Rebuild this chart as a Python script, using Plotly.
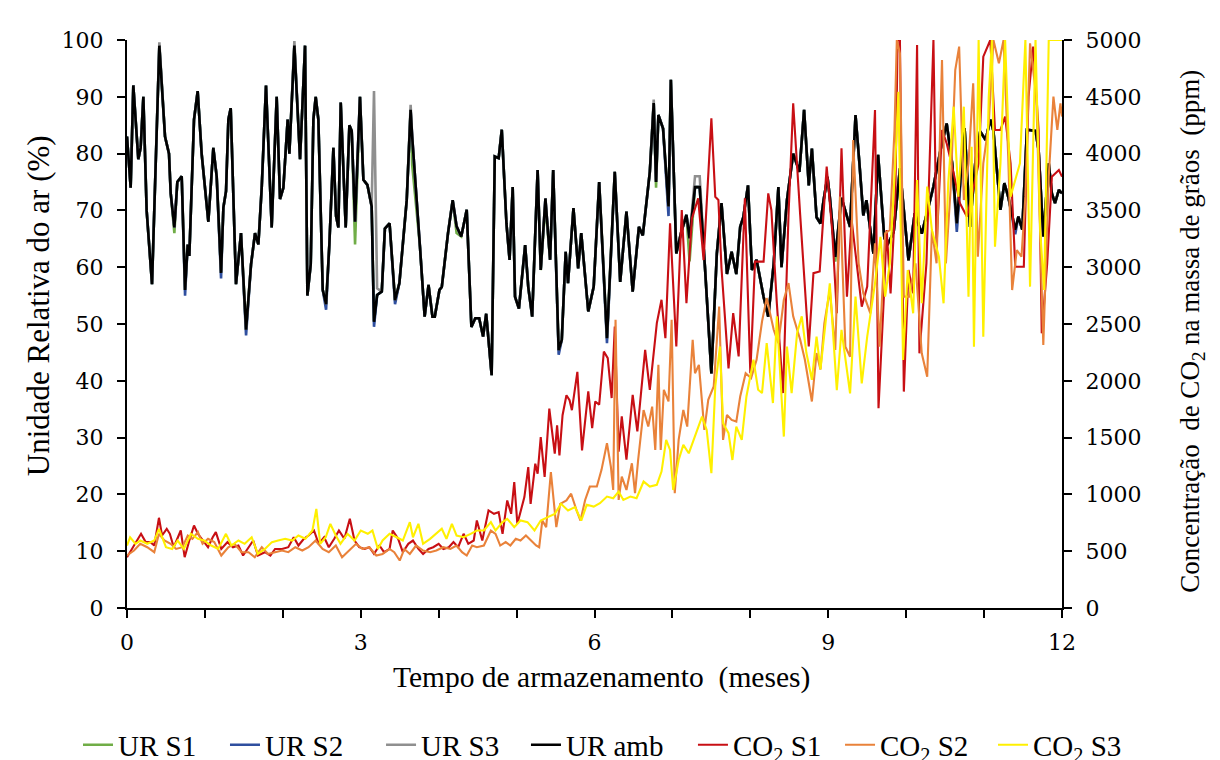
import plotly.graph_objects as go

# ---------------- data ----------------
ur_t = [
    0.00, 0.047, 0.081, 0.145, 0.175, 0.21, 0.252, 0.321, 0.415, 0.488,
    0.539, 0.561, 0.608, 0.646, 0.702, 0.745, 0.779, 0.80, 0.86, 0.907,
    0.958, 1.023, 1.044, 1.108, 1.151, 1.207, 1.237, 1.271, 1.301, 1.331,
    1.399, 1.463, 1.528, 1.592, 1.643, 1.686, 1.729, 1.784, 1.857, 1.921,
    1.964, 2.007, 2.062, 2.084, 2.148, 2.221, 2.285, 2.315, 2.358, 2.392,
    2.422, 2.456, 2.512, 2.555, 2.597, 2.649, 2.683, 2.713, 2.743, 2.807,
    2.854, 2.884, 2.927,
    2.99, 3.034, 3.085, 3.14, 3.17, 3.21, 3.27, 3.31, 3.37, 3.44,
    3.496, 3.55, 3.59, 3.64, 3.66, 3.76, 3.82, 3.87, 3.92, 3.95,
    4.01, 4.04, 4.12, 4.18, 4.23, 4.29, 4.36, 4.42, 4.47, 4.52,
    4.57, 4.61, 4.68, 4.72, 4.77, 4.81, 4.87, 4.91, 4.95, 4.98,
    5.03, 5.11, 5.15, 5.2, 5.27, 5.31, 5.37, 5.43, 5.47, 5.54,
    5.58, 5.63, 5.66, 5.73, 5.79, 5.83,
    5.92, 5.99, 6.06, 6.16, 6.26, 6.33, 6.41, 6.49, 6.57, 6.62,
    6.71, 6.76, 6.79, 6.82, 6.88, 6.95, 6.98, 7.05, 7.11, 7.18,
    7.22, 7.29, 7.35, 7.42, 7.50, 7.57, 7.63, 7.70, 7.76, 7.82,
    7.87, 7.91, 7.97, 8.02, 8.08, 8.17, 8.23, 8.30, 8.36, 8.40,
    8.47, 8.55, 8.63, 8.69, 8.75, 8.79, 8.85,
    8.90, 8.94, 8.99, 9.02, 9.09, 9.13, 9.17, 9.28, 9.35, 9.40,
    9.45, 9.49, 9.58, 9.64, 9.72, 9.77, 9.84, 9.92, 10.03, 10.11,
    10.20, 10.27, 10.35, 10.44, 10.52, 10.59, 10.65, 10.75, 10.82, 10.89,
    10.95, 11.02, 11.08, 11.12, 11.21, 11.26, 11.31, 11.40, 11.44, 11.49,
    11.55, 11.66, 11.70, 11.76, 11.83, 11.87, 11.91, 11.96, 12.0,
]

ur_amb = [
    83, 74, 92, 79, 81, 90, 70, 57, 99, 83,
    80, 73, 67, 75, 76, 56, 64, 62, 86, 91,
    80, 70, 68, 81, 76, 59, 70.5, 73.4, 86, 88,
    57, 66, 49, 60.5, 66, 64, 74, 92, 67, 90,
    72, 74, 86, 80, 99, 79, 99, 55, 60.5, 86,
    90, 86, 56, 53.5, 64, 81, 69, 67, 89, 67,
    85, 84, 68,
    90, 75.4, 74.5, 70.7, 50.4, 55.1, 55.7, 66.8, 67.7, 54.2,
    57.2, 66, 71.8, 87.7, 83, 63.6, 51.3, 56.9, 51.3, 51.3,
    56, 56.5, 66, 71.8, 67.2, 65.4, 70.1, 49.5, 51, 51,
    47.8, 51.8, 41, 79.5, 79.2, 84.2, 67.7, 61.3, 74.1, 54.8,
    52.7, 63.9, 56.5, 51.3, 77.1, 59.5, 72.1, 61.3, 77.1, 45.4,
    47.2, 62.7, 57.2, 70.4, 59.8, 66,
    52.2, 56.6, 75, 47.5, 76.8, 57.4, 69.8, 55.7, 67.1, 65.6,
    76.8, 88.9, 75, 86.8, 84.4, 70.7, 93, 62.4, 66, 69.2,
    65.1, 74.1, 74.1, 59.5, 41.3, 62.4, 71.3, 58.8, 62.7, 58.8,
    67.1, 68.8, 74.4, 59.5, 61.3, 54.8, 51.3, 60.6, 74.1, 60,
    71.8, 80, 76.8, 87.7, 74.4, 80.9, 68.8,
    67.7, 71.8, 75.9, 72.4, 61.8, 66.6, 72.2, 67.1, 86.8, 78.3,
    69.1, 71.8, 62.4, 79.8, 65.1, 64.2, 66.2, 77.4, 61.2, 69.5,
    65.9, 69.7, 74.2, 80.6, 85.3, 78.3, 67.7, 84.5, 67.1, 78.9,
    83.9, 82.4, 86, 84, 70.1, 74.8, 72.4, 66.6, 68.9, 66.6,
    84.2, 84, 80.6, 65.4, 78.3, 73, 71.3, 73.6, 73,
]

ur_s1 = [
    83, 74, 92, 79, 81, 90, 70, 57, 99, 83,
    80, 73, 66, 75, 76, 56, 64, 62, 86, 91,
    80, 70, 68, 81, 76, 59, 70.5, 73.4, 86, 88,
    57, 66, 49, 60.5, 66, 64, 74, 92, 67, 90,
    72, 74, 86, 80, 99, 79, 99, 55, 60.5, 86,
    90, 86, 56, 53.5, 64, 81, 69, 67, 89, 67,
    85, 84, 64,
    90, 75.4, 74.5, 70.7, 50.4, 55.1, 55.7, 66.8, 67.7, 54.2,
    57.2, 66, 71.8, 87.7, 78, 63.6, 51.3, 56.9, 51.3, 51.3,
    56, 56.5, 66, 71.8, 66, 65.4, 70.1, 49.5, 51, 51,
    47.8, 51.8, 41, 79.5, 79.2, 84.2, 67.7, 61.3, 74.1, 54.8,
    52.7, 63.9, 56.5, 51.3, 77.1, 59.5, 71, 61.3, 77.1, 45.4,
    47.2, 62.7, 57.2, 70.4, 59.8, 66,
    52.2, 56.6, 75, 47.5, 76.8, 57.4, 69.8, 55.7, 67.1, 65.6,
    76.8, 88.9, 74, 86.8, 84.4, 70.7, 93, 62.4, 66, 69.2,
    61, 74.1, 74.1, 59.5, 41.3, 62.4, 71.3, 58.8, 62.7, 58.8,
    67.1, 68.8, 74.4, 59.5, 61.3, 54.8, 51.3, 60.6, 74.1, 60,
    71.8, 80, 76.8, 87.7, 74.4, 80.9, 68.8,
    67.7, 71.8, 75.9, 72.4, 61, 66.6, 72.2, 67.1, 86.8, 78.3,
    69.1, 71.8, 62.4, 79.8, 65.1, 64.2, 66.2, 77.4, 61.2, 69.5,
    65.9, 69.7, 74.2, 80.6, 85.3, 78.3, 67.7, 84.5, 67.1, 78.9,
    83.9, 82.4, 86, 84, 70.1, 74.8, 72.4, 66.6, 68.9, 66.6,
    84.2, 84, 80.6, 65.4, 78.3, 73, 71.3, 73.6, 73,
]

ur_s2 = [
    83, 74, 92, 79, 81, 90, 70, 57, 99, 83,
    80, 73, 67, 75, 76, 55, 64, 62, 86, 91,
    80, 70, 68, 81, 76, 58, 70.5, 73.4, 86, 88,
    57, 66, 48, 60.5, 66, 64, 74, 92, 67, 90,
    72, 74, 86, 80, 99, 79, 99, 55, 60.5, 86,
    90, 86, 56, 52.5, 64, 81, 69, 67, 89, 67,
    85, 84, 68,
    90, 75.4, 74.5, 70.7, 49.5, 55.1, 55.7, 66.8, 67.7, 53.5,
    57.2, 66, 71.8, 87.7, 83, 63.6, 51.3, 56.9, 51.3, 51.3,
    56, 56.5, 66, 71.8, 67.2, 65.4, 70.1, 49.5, 51, 51,
    47.8, 51.8, 41, 79.5, 79.2, 84.2, 67.7, 61.3, 74.1, 54.8,
    52.7, 63.9, 56.5, 51.3, 77.1, 59.5, 72.1, 61.3, 77.1, 44.6,
    47.2, 62.7, 57.2, 70.4, 59.8, 66,
    52.2, 56.6, 75, 46.6, 76.8, 57.4, 69.8, 55.7, 67.1, 65.6,
    76.8, 88.9, 75, 86.8, 84.4, 69, 93, 62.4, 66, 69.2,
    65.1, 74.1, 74.1, 59.5, 41.3, 62.4, 71.3, 58.8, 62.7, 58.8,
    67.1, 68.8, 74.4, 59.5, 61.3, 54.8, 51.3, 60.6, 74.1, 60,
    71.8, 80, 76.8, 87.7, 74.4, 80.9, 68.8,
    67.7, 71.8, 75.9, 72.4, 61.8, 66.6, 72.2, 67.1, 86.8, 78.3,
    69.1, 71.8, 62.4, 79.8, 65.1, 64.2, 66.2, 77.4, 61.2, 69.5,
    65.9, 69.7, 74.2, 80.6, 85.3, 78.3, 66.2, 84.5, 67.1, 78.9,
    83.9, 82.4, 86, 84, 70.1, 74.8, 72.4, 65.8, 68.9, 66.6,
    84.2, 84, 80.6, 65.4, 78.3, 73, 71.3, 73.6, 73,
]

ur_s3 = [
    83, 74, 92, 79, 81, 90, 70, 57, 99.6, 83,
    80, 73, 67, 75, 76, 56, 64, 62, 86, 91,
    80, 70, 68, 81, 76, 59, 70.5, 73.4, 86, 88,
    57, 66, 49, 60.5, 66, 64, 74, 92, 67, 90,
    72, 74, 86, 80, 99.8, 79, 99, 55, 60.5, 86,
    90, 86, 56, 53.5, 64, 81, 69, 67, 89, 67,
    85, 84, 68,
    90, 75.4, 74.5, 70.7, 91, 56.3, 55.7, 66.8, 67.7, 54.2,
    57.2, 66, 71.8, 88.6, 83, 63.6, 51.3, 56.9, 51.3, 51.3,
    56, 56.5, 66, 71.8, 67.2, 65.4, 70.1, 49.5, 51, 51,
    47.8, 51.8, 41, 79.5, 79.2, 84.2, 67.7, 61.3, 74.1, 54.8,
    52.7, 63.9, 56.5, 51.3, 77.1, 59.5, 72.1, 61.3, 77.1, 45.4,
    47.2, 62.7, 57.2, 70.4, 59.8, 66,
    52.2, 56.6, 75, 47.5, 76.8, 57.4, 69.8, 55.7, 67.1, 65.6,
    76.8, 89.5, 75, 86.8, 84.4, 70.7, 93, 62.4, 66, 69.2,
    65.1, 76, 76, 59.5, 41.3, 62.4, 71.3, 58.8, 62.7, 58.8,
    67.1, 68.8, 74.4, 59.5, 61.3, 54.8, 51.3, 60.6, 74.1, 60,
    71.8, 80, 76.8, 87.7, 74.4, 80.9, 68.8,
    67.7, 71.8, 75.9, 72.4, 61.8, 66.6, 72.2, 67.1, 86.8, 78.3,
    69.1, 71.8, 62.4, 79.8, 65.1, 64.2, 66.2, 77.4, 61.2, 69.5,
    65.9, 69.7, 74.2, 80.6, 85.3, 78.3, 67.7, 84.5, 67.1, 78.9,
    83.9, 82.4, 86, 84, 70.1, 74.8, 72.4, 66.6, 68.9, 66.6,
    84.2, 84, 80.6, 65.4, 78.3, 73, 71.3, 73.6, 73,
]

co2_s1_t = [
    0.0, 0.065, 0.13, 0.18, 0.24, 0.30, 0.35, 0.41, 0.45, 0.51,
    0.55, 0.60, 0.69, 0.74, 0.80, 0.86, 0.91, 0.97, 1.04, 1.10,
    1.14, 1.21, 1.29, 1.36, 1.43, 1.49, 1.56, 1.62, 1.68, 1.77,
    1.84, 1.90, 1.99, 2.07, 2.14, 2.20, 2.27, 2.33, 2.40, 2.46,
    2.53, 2.59, 2.66, 2.72, 2.79, 2.86, 2.92, 2.98, 3.05, 3.11,
    3.17, 3.24, 3.30, 3.37, 3.41, 3.48, 3.54, 3.61, 3.67, 3.74,
    3.80, 3.87, 3.93, 4.00, 4.06, 4.13, 4.19, 4.25, 4.32, 4.38,
    4.45, 4.49, 4.56, 4.64, 4.71, 4.77, 4.82, 4.88, 4.93, 4.97,
    5.01, 5.10, 5.15, 5.18, 5.24, 5.27, 5.31, 5.36, 5.42, 5.49,
    5.52, 5.55, 5.59, 5.64, 5.68, 5.71, 5.78, 5.84,
    5.92, 5.97, 6.01, 6.06, 6.12, 6.17, 6.22, 6.26, 6.31, 6.35,
    6.41, 6.49, 6.55, 6.65, 6.71, 6.80, 6.86, 6.91, 6.97, 7.05,
    7.12, 7.18, 7.25, 7.33, 7.40, 7.50, 7.55, 7.59, 7.63, 7.72,
    7.78, 7.85, 7.93, 8.00, 8.06, 8.17, 8.23, 8.27, 8.34, 8.42,
    8.49, 8.55, 8.64, 8.69, 8.75, 8.81, 8.89,
    8.98, 9.05, 9.11, 9.17, 9.24, 9.30, 9.43, 9.50, 9.60, 9.645,
    9.71, 9.75, 9.80, 9.86, 9.89, 9.92, 9.97, 10.03, 10.09, 10.14,
    10.17, 10.26, 10.35, 10.39, 10.46, 10.52, 10.61, 10.69, 10.78, 10.84,
    10.93, 10.99, 11.08, 11.14, 11.21, 11.27, 11.34, 11.40, 11.51, 11.57,
    11.63, 11.70, 11.74, 11.81, 11.87, 11.91, 11.96, 12.0,
]
co2_s1 = [
    447, 520, 594, 653, 580, 580, 550, 794, 638, 697,
    653, 535, 682, 447, 594, 726, 653, 594, 535, 623,
    668, 520, 580, 535, 550, 462, 535, 594, 462, 491,
    462, 520, 520, 535, 623, 550, 609, 638, 682, 565,
    623, 535, 609, 682, 609, 785, 594, 535, 520, 535,
    476, 550, 491, 520, 682, 609, 491, 565, 594, 520,
    476, 520, 535, 565, 520, 535, 580, 535, 653, 565,
    594, 770, 594, 859, 829, 844, 653, 947, 829, 1109,
    741, 976, 1241, 917, 1270, 1182, 1505, 1153, 1755, 1358,
    1608, 1344, 1697, 1873, 1829, 1741, 2079, 1388,
    1906, 1584, 1818, 1789, 2258, 2199, 1848, 2478, 1376, 1687,
    1305, 1877, 1554, 2273, 1921, 2508, 2713, 2376, 3386, 2302,
    3503, 2684, 3430, 3606, 3063, 4310, 3620, 3591, 2991, 2109,
    2596, 2215, 3606, 2066, 3049, 3049, 3650, 3503, 2684, 1892,
    3459, 4442, 3459, 2948, 2302, 2948, 2962,
    3885, 3327, 2594, 4047, 2741, 3415, 2653, 2829, 4384, 1758,
    2682, 3327, 2770, 3562, 5000, 5000, 1905, 2975, 2770, 4956,
    2242, 3034, 5000, 3181, 4208, 4090, 3826, 3562, 3444, 3620,
    3914, 4853, 5000, 4208, 4208, 4325, 3914, 3004, 3004, 4502,
    4942, 4208, 2418, 3034, 3797, 3826, 3855, 3797,
]

co2_s2_t = [
    0.00, 0.09, 0.17, 0.26, 0.35, 0.41, 0.48, 0.56, 0.63, 0.71,
    0.78, 0.84, 0.91, 0.97, 1.04, 1.12, 1.21, 1.30, 1.38, 1.47,
    1.56, 1.64, 1.73, 1.81, 1.90, 1.99, 2.07, 2.16, 2.25, 2.33,
    2.42, 2.51, 2.59, 2.68, 2.76, 2.85, 2.94, 3.02, 3.11, 3.20,
    3.28, 3.37, 3.43, 3.50, 3.56, 3.63, 3.71, 3.80, 3.89, 3.97,
    4.06, 4.15, 4.23, 4.30, 4.36, 4.43, 4.49, 4.58, 4.67, 4.73,
    4.79, 4.86, 4.92, 4.99, 5.05, 5.12, 5.18, 5.25, 5.29, 5.33,
    5.38, 5.44, 5.51, 5.56, 5.64, 5.70, 5.77, 5.82,
    5.88, 5.94, 6.03, 6.09, 6.16, 6.21, 6.24, 6.27, 6.31, 6.35,
    6.41, 6.48, 6.52, 6.56, 6.63, 6.69, 6.74, 6.78, 6.82, 6.85,
    6.89, 6.95, 6.99, 7.03, 7.08, 7.14, 7.19, 7.26, 7.29, 7.34,
    7.41, 7.46, 7.53, 7.60, 7.65, 7.70, 7.76, 7.82, 7.87, 7.94,
    8.01, 8.08, 8.15, 8.21, 8.30, 8.36, 8.43, 8.49, 8.55, 8.64,
    8.70, 8.79, 8.85,
    8.90, 8.95, 9.02, 9.09, 9.15, 9.22, 9.28, 9.32, 9.39, 9.45,
    9.54, 9.60, 9.66, 9.73, 9.79, 9.85, 9.88, 9.92, 9.97, 10.04,
    10.12, 10.20, 10.27, 10.33, 10.39, 10.46, 10.51, 10.57, 10.63, 10.68,
    10.74, 10.80, 10.86, 10.92, 10.99, 11.06, 11.12, 11.19, 11.25, 11.31,
    11.36, 11.42, 11.48, 11.53, 11.59, 11.67, 11.72, 11.76, 11.83, 11.89,
    11.94, 11.98, 12.0,
]
co2_s2 = [
    462, 506, 565, 535, 491, 653, 594, 565, 520, 535,
    638, 609, 668, 565, 609, 580, 462, 535, 565, 491,
    491, 447, 535, 476, 491, 506, 491, 535, 506, 535,
    594, 520, 491, 550, 447, 506, 565, 520, 535, 462,
    476, 520, 491, 418, 520, 476, 550, 506, 491, 506,
    535, 520, 550, 491, 462, 550, 535, 550, 682, 653,
    550, 580, 550, 609, 594, 638, 594, 550, 535, 770,
    712, 1197, 712, 917, 947, 1006, 859, 770,
    951, 1069, 1069, 1216, 1451, 1245, 1039, 2537, 951, 1157,
    1039, 1274, 1010, 1303, 1743, 1597, 1773, 1391, 2140, 1391,
    1921, 1818, 2537, 1010, 1480, 1743, 1597, 2361, 2067, 2140,
    1568, 1833, 1950, 2654, 1480, 1700, 1656, 1641, 1862, 2067,
    2023, 2185, 2522, 2728, 2449, 2332, 2713, 2860, 2567, 2361,
    2185, 1818, 2244,
    2100, 2506, 2799, 2271, 3621, 2300, 2212, 4120, 3034, 2770,
    2594, 3210, 2300, 3298, 3327, 4208, 5000, 4883, 2741, 2741,
    3034, 2242, 2036, 3327, 3034, 4824, 3034, 3679, 4736, 4942,
    3591, 3914, 4619, 3093, 3914, 4266, 5000, 4795, 5000, 3973,
    2799, 3151, 3093, 3621, 4971, 4502, 3386, 2315, 3797, 4502,
    4208, 4443, 4326,
]

co2_s3_t = [
    0.00, 0.04, 0.11, 0.17, 0.26, 0.35, 0.41, 0.50, 0.58, 0.65,
    0.73, 0.82, 0.91, 0.99, 1.08, 1.17, 1.27, 1.34, 1.43, 1.51,
    1.60, 1.68, 1.77, 1.86, 1.94, 2.03, 2.12, 2.20, 2.29, 2.38,
    2.43, 2.48, 2.55, 2.61, 2.68, 2.74, 2.83, 2.92, 3.00, 3.09,
    3.15, 3.22, 3.28, 3.37, 3.46, 3.54, 3.63, 3.67, 3.74, 3.80,
    3.89, 3.97, 4.04, 4.10, 4.17, 4.23, 4.32, 4.41, 4.49, 4.58,
    4.67, 4.73, 4.82, 4.88, 4.97, 5.05, 5.14, 5.23, 5.31, 5.40,
    5.49, 5.57, 5.66, 5.75, 5.83,
    5.90, 5.99, 6.07, 6.16, 6.24, 6.31, 6.37, 6.46, 6.54, 6.63,
    6.71, 6.80, 6.86, 6.92, 6.97, 7.01, 7.08, 7.14, 7.21, 7.29,
    7.38, 7.44, 7.50, 7.55, 7.61, 7.65, 7.72, 7.77, 7.82, 7.89,
    7.95, 8.04, 8.10, 8.15, 8.21, 8.29, 8.34, 8.43, 8.47, 8.53,
    8.60, 8.66, 8.72, 8.79, 8.85,
    8.90, 8.96, 9.02, 9.11, 9.17, 9.28, 9.35, 9.43, 9.50, 9.60,
    9.67, 9.73, 9.79, 9.86, 9.90, 9.96, 10.02, 10.09, 10.14, 10.20,
    10.27, 10.33, 10.42, 10.48, 10.54, 10.61, 10.67, 10.74, 10.80, 10.84,
    10.87, 10.93, 10.99, 11.06, 11.10, 11.14, 11.21, 11.27, 11.34, 11.40,
    11.46, 11.53, 11.59, 11.66, 11.72, 11.77, 11.83, 11.89, 12.0,
]
co2_s3 = [
    550, 623, 565, 594, 565, 594, 697, 535, 520, 594,
    520, 653, 609, 594, 550, 520, 653, 550, 594, 565,
    623, 476, 520, 580, 594, 609, 594, 638, 609, 682,
    873, 565, 623, 741, 638, 565, 653, 594, 682, 653,
    682, 520, 594, 653, 623, 594, 756, 623, 741, 565,
    609, 653, 697, 609, 741, 638, 623, 653, 682, 682,
    756, 682, 756, 785, 712, 770, 756, 682, 770, 800,
    829, 917, 859, 888, 770,
    908, 893, 922, 981, 966, 1025, 951, 981, 966, 1113,
    1069, 1084, 1201, 1480, 1391, 1039, 1303, 1436, 1362, 1509,
    1685, 1568, 1187, 1950, 2302, 1627, 1539, 1303, 1597, 1480,
    1862, 2185, 1921, 1892, 2332, 1804, 2567, 1509, 2302, 1892,
    2420, 2567, 2244, 2009, 2390,
    2100, 2506, 2858, 1918, 2448, 1889, 2741, 1977, 2389, 2858,
    3268, 2741, 3034, 3914, 4545, 2183, 2975, 2594, 3767, 2682,
    3709, 3327, 3093, 2682, 3738, 4413, 3621, 4413, 2741, 4061,
    2300, 5000, 2389, 4502, 5000, 3181, 3914, 5000, 3621, 3767,
    3914, 5000, 2829, 5000, 3327, 2799, 5000, 5000, 5000,
]

# ---------------- figure ----------------
fig = go.Figure()

legend_ids = ["legend", "legend2", "legend3", "legend4",
              "legend5", "legend6", "legend7"]
legend_x = [-0.0524, 0.1048, 0.2717, 0.4267, 0.6053, 0.7626, 0.9262]

ur_series = [
    ("UR S1", ur_s1, "#70AD47"),
    ("UR S2", ur_s2, "#2F4F9F"),
    ("UR S3", ur_s3, "#8F8F8F"),
    ("UR amb", ur_amb, "#000000"),
]
for i, (name, vals, col) in enumerate(ur_series):
    fig.add_trace(go.Scatter(x=ur_t, y=vals, mode="lines", name=name,
                             line=dict(color=col, width=2.6), yaxis="y",
                             legend=legend_ids[i]))

co2_series = [
    ("CO<sub>2</sub> S1", co2_s1_t, co2_s1, "#C80F14"),
    ("CO<sub>2</sub> S2", co2_s2_t, co2_s2, "#E9823A"),
    ("CO<sub>2</sub> S3", co2_s3_t, co2_s3, "#FFF000"),
]
for j, (name, t, vals, col) in enumerate(co2_series):
    fig.add_trace(go.Scatter(x=t, y=vals, mode="lines", name=name,
                             line=dict(color=col, width=2.1), yaxis="y2",
                             legend=legend_ids[4 + j]))

tick_font = dict(family="DejaVu Serif", size=22, color="black")
legend_font = dict(family="Liberation Serif", size=29, color="black")

legend_layouts = {}
for lid, lx in zip(legend_ids, legend_x):
    legend_layouts[lid] = dict(orientation="h", x=lx, xanchor="left",
                               y=-0.241, yanchor="middle",
                               font=legend_font, bgcolor="rgba(0,0,0,0)",
                               itemwidth=30)

fig.update_layout(
    width=1220, height=760,
    margin=dict(l=127, r=158, t=40, b=152, autoexpand=False),
    paper_bgcolor="white", plot_bgcolor="white",
    font=dict(family="Liberation Serif", size=26, color="black"),
    xaxis=dict(range=[0, 12], tick0=0, dtick=3,
               ticks="outside", ticklen=8, tickwidth=2, tickcolor="black",
               minor=dict(dtick=1, ticks="outside", ticklen=8, tickwidth=2,
                          tickcolor="black", showgrid=False),
               ticklabelstandoff=6,
               showline=True, linecolor="black", linewidth=2,
               showgrid=False, zeroline=False, tickfont=tick_font),
    yaxis=dict(range=[0, 100], dtick=10, ticks="outside", ticklen=8,
               tickwidth=2, tickcolor="black", showline=True,
               ticklabelstandoff=9,
               linecolor="black", linewidth=2, showgrid=False,
               zeroline=False, tickfont=tick_font),
    yaxis2=dict(range=[0, 5000], dtick=500, overlaying="y", side="right",
                ticks="outside", ticklen=8, tickwidth=2, tickcolor="black",
                ticklabelstandoff=9,
                showline=True, linecolor="black", linewidth=2,
                showgrid=False, zeroline=False, tickfont=tick_font),
    showlegend=True,
    annotations=[
        dict(text="Tempo de armazenamento\u00a0 (meses)", xref="paper", yref="paper",
             x=0.507, y=-0.1215, xanchor="center", yanchor="middle",
             showarrow=False,
             font=dict(family="Liberation Serif", size=29.5, color="black")),
        dict(text="Unidade Relativa do ar (%)", xref="paper", yref="paper",
             x=-0.0952, y=0.533, xanchor="center", yanchor="middle",
             textangle=-90, showarrow=False,
             font=dict(family="Liberation Serif", size=31, color="black")),
        dict(text="Concentração\u00a0 de CO<sub>2</sub> na massa de grãos\u00a0 (ppm)",
             xref="paper", yref="paper", x=1.139, y=0.488,
             xanchor="center", yanchor="middle", textangle=-90,
             showarrow=False,
             font=dict(family="Liberation Serif", size=27, color="black")),
    ],
    **legend_layouts,
)

fig.write_html("out.html")
